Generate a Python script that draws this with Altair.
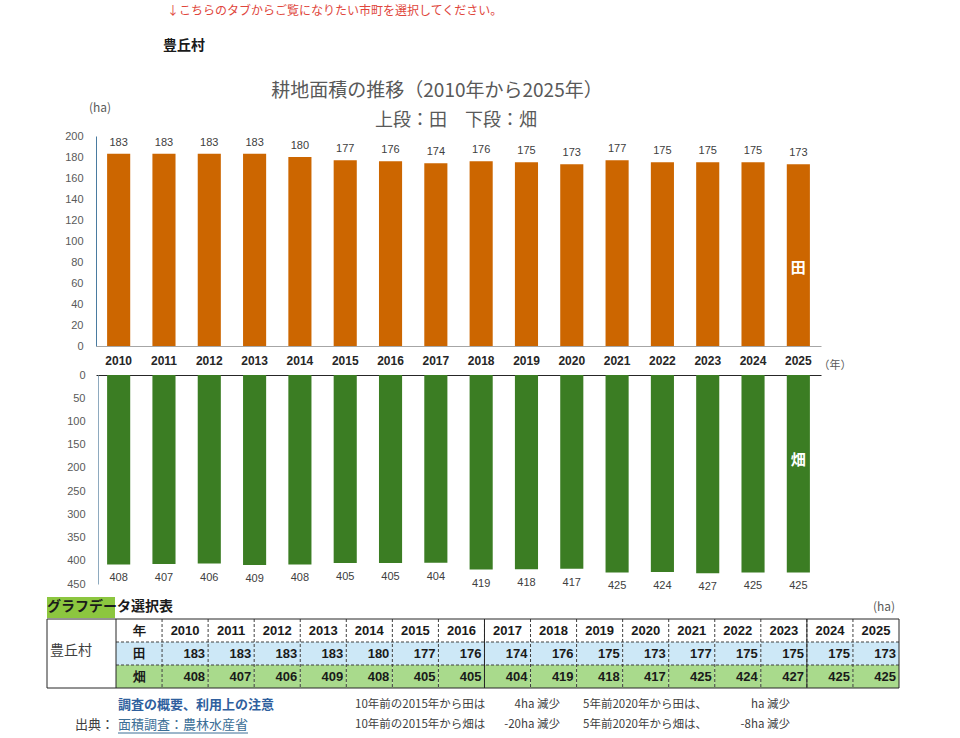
import altair as alt
import pandas as pd

# ---- data ---------------------------------------------------------------
years = [str(y) for y in range(2010, 2026)]
paddy_ha = [183, 183, 183, 183, 180, 177, 176, 174, 176, 175, 173, 177, 175, 175, 175, 173]
upland_ha = [408, 407, 406, 409, 408, 405, 405, 404, 419, 418, 417, 425, 424, 427, 425, 425]
paddy_ticks = list(range(0, 201, 20))
upland_ticks = list(range(0, 451, 50))
table_rows = ["年", "田", "畑"]
village = "豊丘村"

# ---- layout / style -----------------------------------------------------
W, H = 960, 738
JP = "Noto Sans CJK JP"
NUM = "Liberation Sans"
ORANGE = "#cc6600"
GREEN = "#3b7d23"
TXT = "#404040"

bars = pd.DataFrame({"year": years, "paddy": paddy_ha, "upland": upland_ha})


def x_bar(axis=None):
    return alt.X(
        "year:N",
        scale=alt.Scale(domain=years, range=[96, 821], paddingInner=0.49, paddingOuter=0.245),
        axis=axis,
        title=None,
    )


Y_TOP = alt.Scale(domain=[0, 200], range=[346, 136], nice=False)
Y_BOT = alt.Scale(domain=[0, 450], range=[375, 584], nice=False)


def note(text, x, y, size=12, color=TXT, align="left", weight="normal", font=JP, baseline="middle"):
    return alt.Chart(pd.DataFrame({"t": [text]})).mark_text(
        align=align, baseline=baseline, fontSize=size, color=color, fontWeight=weight, font=font
    ).encode(text="t:N", x=alt.value(x), y=alt.value(y))


# ---- upper panel: paddy fields (田) --------------------------------------
top_bars = alt.Chart(bars).mark_bar(color=ORANGE).encode(
    x=x_bar(alt.Axis(orient="bottom", offset=-(H - 346), domainColor="#a6a6a6", ticks=False,
                     labelAngle=0, labelFont=NUM, labelFontWeight="bold", labelFontSize=12,
                     labelColor="#262626", labelPadding=9, grid=False)),
    y=alt.Y("paddy:Q", scale=Y_TOP, title=None,
            axis=alt.Axis(orient="left", offset=-96, values=paddy_ticks, ticks=False, grid=False,
                          domainColor="#4a7ba0", labelColor="#595959", labelFont=NUM,
                          labelFontSize=11, labelPadding=13)),
)
top_labels = alt.Chart(bars).mark_text(baseline="bottom", dy=-6, fontSize=11, color=TXT, font=NUM).encode(
    x=x_bar(), y=alt.Y("paddy:Q", scale=Y_TOP, axis=None), text="paddy:Q"
)
top_tag = alt.Chart(bars).transform_filter(alt.datum.year == years[-1]).mark_text(
    text="田", color="white", fontSize=15, fontWeight="bold", font=JP
).encode(x=x_bar(), y=alt.value(268))

# ---- lower panel: upland fields (畑), downward axis -----------------------
bot_bars = alt.Chart(bars).mark_bar(color=GREEN).encode(
    x=x_bar(alt.Axis(orient="top", offset=-375, domainColor="#262626", ticks=False, labels=False, grid=False)),
    y=alt.Y("upland:Q", scale=Y_BOT, title=None,
            axis=alt.Axis(orient="left", offset=-98, values=upland_ticks, ticks=False, grid=False,
                          domainColor="#8eaabf", labelColor="#595959", labelFont=NUM,
                          labelFontSize=11, labelPadding=13)),
)
bot_labels = alt.Chart(bars).mark_text(baseline="top", dy=8, fontSize=11, color=TXT, font=NUM).encode(
    x=x_bar(), y=alt.Y("upland:Q", scale=Y_BOT, axis=None), text="upland:Q"
)
bot_tag = alt.Chart(bars).transform_filter(alt.datum.year == years[-1]).mark_text(
    text="畑", color="white", fontSize=15, fontWeight="bold", font=JP
).encode(x=x_bar(), y=alt.value(460))

# ---- data table ------------------------------------------------------------
cols = ["head"] + years
recs = []
for row in table_rows:
    for c in cols:
        if c == "head":
            recs.append({"row": row, "col": c, "label": row, "kind": "head"})
        elif row == "年":
            recs.append({"row": row, "col": c, "label": c, "kind": "year"})
        else:
            vals = paddy_ha if row == "田" else upland_ha
            recs.append({"row": row, "col": c, "label": str(vals[years.index(c)]), "kind": "value"})
cells = pd.DataFrame(recs)

TX = alt.Scale(domain=cols, range=[116, 899], paddingInner=0, paddingOuter=0)
TY = alt.Scale(domain=table_rows, range=[619, 688], paddingInner=0, paddingOuter=0)
COL_W = (899 - 116) / len(cols)

cell_fill = alt.Chart(cells).mark_rect().encode(
    x=alt.X("col:N", scale=TX, axis=None),
    y=alt.Y("row:N", scale=TY, axis=None),
    color=alt.Color("row:N", scale=alt.Scale(domain=table_rows, range=["#ffffff", "#cde8f7", "#a9da8c"]),
                    legend=None),
)
col_edges = pd.DataFrame({"col": years})
v_dash = alt.Chart(col_edges).mark_rule(color="#404040", strokeDash=[3, 2], strokeWidth=1).encode(
    x=alt.X("col:N", scale=TX, bandPosition=0, axis=None), y=alt.value(619), y2=alt.value(688)
)
row_edges = pd.DataFrame({"row": table_rows[1:]})
h_dash = alt.Chart(row_edges).mark_rule(color="#404040", strokeDash=[3, 2], strokeWidth=1).encode(
    y=alt.Y("row:N", scale=TY, bandPosition=0, axis=None), x=alt.value(116), x2=alt.value(899)
)
solid_edges = pd.DataFrame({"col": ["head", "2017", "2024"]})
v_solid = alt.Chart(solid_edges).mark_rule(color="#262626", strokeWidth=1).encode(
    x=alt.X("col:N", scale=TX, bandPosition=0, axis=None), y=alt.value(619), y2=alt.value(688)
)
frame = alt.Chart(pd.DataFrame({"k": [0]})).mark_rect(filled=False, stroke="#262626", strokeWidth=1).encode(
    x=alt.value(47), x2=alt.value(899), y=alt.value(619), y2=alt.value(688)
)
head_text = alt.Chart(cells).transform_filter(alt.datum.kind != "value").mark_text(
    fontSize=13, fontWeight="bold", color="#1a1a1a", font=NUM
).encode(
    x=alt.X("col:N", scale=TX, axis=None), y=alt.Y("row:N", scale=TY, axis=None), text="label:N"
)
# numbers sit flush against the right edge of their cell
value_text = alt.Chart(cells).transform_filter(alt.datum.kind == "value").mark_text(
    fontSize=13, fontWeight="bold", color="#1a1a1a", font=NUM, align="right", dx=COL_W / 2 - 3
).encode(
    x=alt.X("col:N", scale=TX, axis=None), y=alt.Y("row:N", scale=TY, axis=None),
    text="label:N"
)

# caption strip above the table
caption_bg = alt.Chart(pd.DataFrame({"k": [0]})).mark_rect(color="#8cc63f").encode(
    x=alt.value(47), x2=alt.value(115), y=alt.value(597), y2=alt.value(618)
)


# ---- change summary under the table -------------------------------------
def change(vals, start, end):
    d = vals[years.index(start)] - vals[years.index(end)]
    return (f"{d}ha 減少") if d != 0 else "ha 減少"


link_rule = alt.Chart(pd.DataFrame({"k": [0]})).mark_rule(color="#3b6e96").encode(
    x=alt.value(118), x2=alt.value(248), y=alt.value(733)
)

layers = [
    top_bars, top_labels, top_tag,
    bot_bars, bot_labels, bot_tag,
    cell_fill, v_dash, h_dash, v_solid, frame, head_text, value_text,
    caption_bg, link_rule,
    note("↓こちらのタブからご覧になりたい市町を選択してください。", 167, 11, size=12, color="#e0463c"),
    note(village, 163, 46, size=14, weight="bold", color="#1a1a1a"),
    note("耕地面積の推移（2010年から2025年）", 437, 91, size=19, color="#595959", align="center"),
    note("上段：田　下段：畑", 456, 121, size=18, color="#595959", align="center"),
    note("(ha)", 100, 108, size=12, color="#595959", align="center"),
    note("（年）", 835, 366, size=11, color="#595959", align="center"),
    note("グラフデータ選択表", 47, 607, size=14, weight="bold", color="#1a1a1a"),
    note("(ha)", 884, 607, size=12, color="#595959", align="center"),
    note(village, 50, 651, size=14, color=TXT),
    note("調査の概要、利用上の注意", 118, 705, size=13, weight="bold", color="#2f5f9e"),
    note("出典：", 75, 725, size=13, color=TXT),
    note("面積調査：農林水産省", 118, 725, size=13, color="#3b6e96"),
    note("10年前の2015年から田は", 355, 705, size=11.5),
    note(change(paddy_ha, "2015", "2025"), 560, 705, size=11.5, align="right"),
    note("5年前2020年から田は、", 583, 705, size=11.5),
    note(change(paddy_ha, "2020", "2025"), 790, 705, size=11.5, align="right"),
    note("10年前の2015年から畑は", 355, 725, size=11.5),
    note(change(upland_ha, "2015", "2025"), 560, 725, size=11.5, align="right"),
    note("5年前2020年から畑は、", 583, 725, size=11.5),
    note(change(upland_ha, "2020", "2025"), 790, 725, size=11.5, align="right"),
]

chart = (
    alt.layer(*layers)
    .resolve_scale(x="independent", y="independent")
    .properties(width=W, height=H, padding=0, autosize=alt.AutoSizeParams(type="none"))
    .configure_view(stroke=None)
)

chart.save("out.html", embed_options={"renderer": "svg", "actions": False})
